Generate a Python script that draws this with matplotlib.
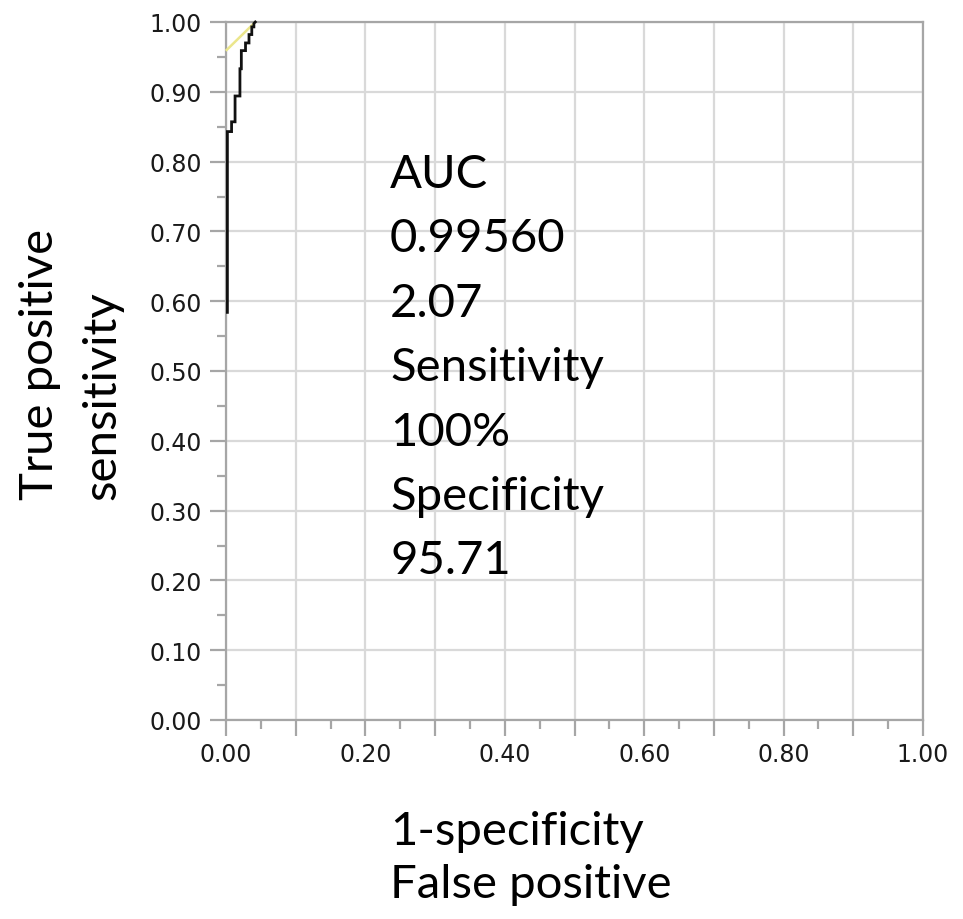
import matplotlib
matplotlib.use("Agg")
import matplotlib.pyplot as plt

# ROC curve vertices (1-specificity, sensitivity)
fpr = [0.002, 0.002, 0.008, 0.008, 0.013, 0.013, 0.020, 0.020, 0.022, 0.022,
       0.028, 0.028, 0.033, 0.033, 0.037, 0.037, 0.040, 0.040, 0.042]
tpr = [0.584, 0.843, 0.843, 0.857, 0.857, 0.894, 0.894, 0.933, 0.933, 0.959,
       0.959, 0.970, 0.970, 0.982, 0.982, 0.993, 0.993, 0.998, 1.000]

# tangent (yellow) line
tan_x = [0.001, 0.040]
tan_y = [0.960, 0.998]

x_tick_labels = ["0.00", "0.20", "0.40", "0.60", "0.80", "1.00"]
y_tick_labels = ["0.00", "0.10", "0.20", "0.30", "0.40", "0.50", "0.60", "0.70", "0.80", "0.90", "1.00"]

info_lines = ["AUC", "0.99560", "2.07", "Sensitivity", "100%", "Specificity", "95.71"]
ylabel_lines = ["True positive", "sensitivity"]
xlabel_lines = ["1-specificity", "False positive"]

W, H = 963, 920
fig = plt.figure(figsize=(W / 100, H / 100), dpi=100)

def fx(x):
    return x / W

def fy(y):
    return 1 - y / H

left, right, top, bottom = 226, 923, 23, 721
ax = fig.add_axes([fx(left), fy(bottom), (right - left) / W, (bottom - top) / H])
ax.set_xlim(0, 1)
ax.set_ylim(0, 1)

spine_col = "#a6a6a6"
grid_col = "#d9d9d9"
for s in ax.spines.values():
    s.set_color(spine_col)
    s.set_linewidth(1.6)
    s.set_zorder(3)

major = [round(i * 0.1, 2) for i in range(11)]
minor = [round(0.05 + i * 0.1, 2) for i in range(10)]
ax.set_xticks(major)
ax.set_xticklabels([x_tick_labels[i // 2] if i % 2 == 0 else "" for i in range(11)])
ax.set_xticks(minor, minor=True)
ax.set_yticks(major)
ax.set_yticklabels(y_tick_labels)
ax.set_yticks(minor, minor=True)

ax.tick_params(which="major", direction="out", length=11.5, width=1.6, color=spine_col,
               labelsize=17, labelcolor="#1a1a1a")
ax.tick_params(which="minor", direction="out", length=6.5, width=1.6, color=spine_col)
ax.tick_params(axis="y", which="major", pad=6)
ax.tick_params(axis="x", which="major", pad=4)

ax.grid(True, which="major", color=grid_col, linewidth=1.6, zorder=0)
ax.set_axisbelow(True)

ax.plot(tan_x, tan_y, color="#ebe68c", linewidth=1.8, zorder=4, clip_on=False)
ax.plot(fpr, tpr, color="#111111", linewidth=2.0, zorder=5, clip_on=False,
        solid_joinstyle="miter")

font_big = "Lato"
fs_big = 34
base0 = 188
step = 64.4
for i, line in enumerate(info_lines):
    fig.text(fx(390), fy(base0 + i * step), line, fontsize=fs_big, family=font_big,
             ha="left", va="baseline", color="black")

for line, bx in zip(ylabel_lines, [53, 115]):
    fig.text(fx(bx), fy(500), line, fontsize=fs_big, family=font_big, rotation=90,
             rotation_mode="anchor", ha="left", va="baseline", color="black")

for line, by in zip(xlabel_lines, [845, 898]):
    fig.text(fx(390), fy(by), line, fontsize=fs_big, family=font_big,
             ha="left", va="baseline", color="black")

fig.savefig("out.png", dpi=100)
